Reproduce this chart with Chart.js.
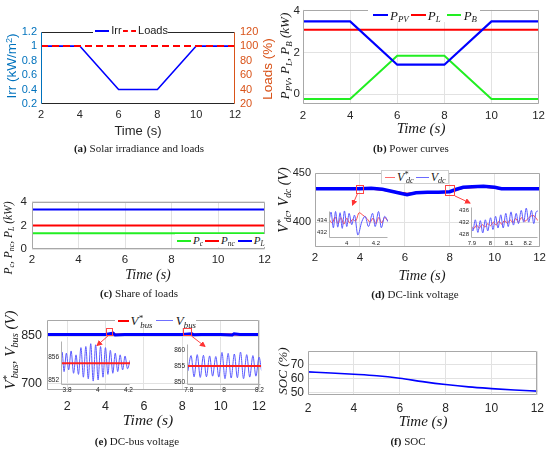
<!DOCTYPE html>
<html>
<head>
<meta charset="utf-8">
<script src="https://cdn.jsdelivr.net/npm/chart.js@4.4.0/dist/chart.umd.min.js"></script>
<style>
html, body { margin: 0; padding: 0; background: #fff; }
#page { position: relative; width: 550px; height: 450px; overflow: hidden; }
canvas { position: absolute; }
.t { position: absolute; white-space: nowrap; line-height: 1; transform: translate(-50%, -50%); color: #1a1a1a; }
.rot { transform: translate(-50%, -50%) rotate(-90deg); }
.m { font-family: 'Liberation Serif', serif; font-style: italic; }
.s { font-family: 'Liberation Sans', Arial, sans-serif; }
.cap { font-family: 'Liberation Serif', serif; }
sub, sup { font-size: 68%; line-height: 0; position: relative; }
sub { vertical-align: -0.3em; }
sup { vertical-align: 0.45em; }
.lg { position: absolute; display: flex; align-items: center; background: #fff; white-space: nowrap; line-height: 1; color: #1a1a1a; box-sizing: border-box; }
.lg i { display: inline-block; height: 0; }
svg { position: absolute; left: 0; top: 0; }
</style>
</head>
<body>
<div id="page">
<canvas id="ca"></canvas>
<canvas id="cb"></canvas>
<canvas id="cc"></canvas>
<canvas id="cd"></canvas>
<canvas id="ce"></canvas>
<canvas id="cf"></canvas>
<canvas id="cdl"></canvas>
<canvas id="cdr"></canvas>
<canvas id="cel"></canvas>
<canvas id="cer"></canvas>
<svg width="550" height="450">
  <defs>
    <marker id="ah" markerWidth="6" markerHeight="6" refX="5" refY="3" orient="auto">
      <path d="M0,0 L6,3 L0,6 z" fill="#f33"/>
    </marker>
  </defs>
  <g fill="none" stroke="#f44" stroke-width="1">
    <rect x="356.5" y="185.5" width="7" height="8"/>
    <line x1="357.5" y1="193.5" x2="352.5" y2="205" marker-end="url(#ah)"/>
    <rect x="445.5" y="185.5" width="9" height="10"/>
    <line x1="455" y1="196" x2="470" y2="203" marker-end="url(#ah)"/>
    <rect x="106.5" y="328.5" width="6" height="7"/>
    <line x1="108.5" y1="335.5" x2="97" y2="345.5" marker-end="url(#ah)"/>
    <rect x="183.5" y="328.5" width="8" height="7"/>
    <line x1="191.5" y1="336" x2="205" y2="346.5" marker-end="url(#ah)"/>
  </g>
</svg>
</div>
<script>
/* --------------- (a) Solar irradiance and loads --------------------- */
const timeA = [2, 4, 6, 8, 10, 12];
const irr = [1, 1, 0.4, 0.4, 1, 1];
const loads = [100, 100, 100, 100, 100, 100];
const ticksTime = [2, 4, 6, 8, 10, 12];
const ticksIrr = [0.2, 0.4, 0.6, 0.8, 1, 1.2];
const ticksLoads = [20, 40, 60, 80, 100, 120];

/* --------------- (b) Power curves --------------------- */
const timeB = [2, 4, 6, 8, 10, 12];
const pPV = [3.5, 3.5, 1.42, 1.42, 3.5, 3.5];
const pL = [3.1, 3.1, 3.1, 3.1, 3.1, 3.1];
const pB = [-0.22, -0.22, 1.85, 1.85, -0.22, -0.22];
const ticksPower = [0, 2, 4];

/* --------------- (c) Share of loads --------------------- */
const timeC = [2, 12];
const pc = [1.33, 1.33];
const pnc = [2.0, 2.0];
const pLoad = [3.35, 3.35];

/* --------------- (d) DC-link voltage --------------------- */
const timeD = [2, 3, 4, 4.5, 5, 5.4, 5.8, 6.1, 6.5, 7, 7.5, 8, 8.3, 8.6, 9, 9.5, 10, 10.3, 11, 12];
const vdc = [434, 434, 434, 434.5, 433.5, 431.5, 429.5, 428, 430, 430.5, 430.5, 431, 433.5, 435.5, 436, 436.5, 435.5, 434, 434, 434];
const vdcRef = [434, 434, 434, 434, 433, 431.5, 430, 429, 430, 430.5, 430.5, 431, 433, 435, 435.5, 436, 435, 434, 434, 434];
const ticksVdc = [400, 450];
// zoom near t = 4 s
const tDcL = [3.878, 3.892, 3.908, 3.923, 3.938, 3.954, 3.969, 3.984, 4.0, 4.016, 4.034, 4.053, 4.076, 4.103, 4.126, 4.149, 4.177, 4.195, 4.218, 4.237, 4.26, 4.283];
const vDcL = [433.8, 435.4, 432.8, 435.5, 432.9, 435.3, 432.7, 435.6, 433.0, 435.2, 433.3, 434.9, 431.6, 433.8, 434.7, 433.0, 435.2, 433.0, 435.5, 432.8, 434.7, 433.8];
const tRefL = [3.878, 3.9, 3.92, 3.94, 3.96, 3.98, 4.0, 4.02, 4.04, 4.06, 4.085, 4.11, 4.14, 4.16, 4.18, 4.2, 4.22, 4.24, 4.26, 4.283];
const vRefL = [434.2, 433.6, 434.6, 433.5, 434.5, 433.4, 434.4, 433.6, 434.2, 433.9, 435.3, 434.9, 434.3, 433.7, 434.4, 433.5, 434.5, 433.6, 434.5, 433.9];
// zoom near t = 8 s
const tDcR = [7.895, 7.905, 7.918, 7.932, 7.945, 7.958, 7.972, 7.985, 8.0, 8.013, 8.027, 8.04, 8.055, 8.068, 8.082, 8.095, 8.11, 8.123, 8.138, 8.15, 8.165, 8.178, 8.192, 8.205, 8.22, 8.232, 8.245, 8.255];
const vDcR = [431.5, 429.0, 432.8, 428.5, 432.5, 428.3, 432.8, 429.0, 433.5, 429.5, 434.0, 430.0, 434.5, 430.0, 435.0, 430.5, 435.5, 431.0, 435.0, 431.5, 436.0, 432.0, 436.8, 432.0, 436.0, 431.5, 435.5, 435.8];
const tRefR = [7.895, 7.91, 7.925, 7.94, 7.955, 7.97, 7.985, 8.0, 8.015, 8.03, 8.045, 8.06, 8.075, 8.09, 8.105, 8.12, 8.135, 8.15, 8.165, 8.185, 8.205, 8.228, 8.255];
const vRefR = [430.5, 429.8, 431.0, 430.0, 431.2, 430.3, 431.5, 430.8, 432.0, 431.0, 432.3, 431.3, 432.6, 431.6, 432.8, 431.8, 433.3, 432.0, 433.5, 432.3, 433.5, 434.3, 432.5];

/* --------------- (e) DC-bus voltage --------------------- */
const timeE = [0.95, 2, 3, 4, 4.4, 4.5, 5, 6, 7, 8, 8.5, 8.6, 9, 10, 10.6, 10.7, 11, 12];
const vbus = [855, 855, 855, 855, 859, 853, 855, 855, 855, 855, 857, 854, 855, 855, 853, 857, 855, 855];
const vbusRef = [855, 855, 855, 855, 855, 855, 855, 855, 855, 855, 855, 855, 855, 855, 855, 855, 855, 855];
const ticksTimeE = [2, 4, 6, 8, 10, 12];
const ticksVbus = [700, 850];
// zoom near t = 4 s
const tBusL = [3.76, 3.767, 3.78, 3.795, 3.81, 3.826, 3.842, 3.858, 3.874, 3.89, 3.906, 3.922, 3.938, 3.954, 3.97, 3.986, 4.002, 4.018, 4.034, 4.05, 4.066, 4.082, 4.098, 4.114, 4.13, 4.146, 4.162, 4.178, 4.194, 4.21];
const vBusL = [855.5, 857.0, 853.5, 856.8, 853.8, 857.2, 853.2, 856.5, 853.0, 857.8, 852.5, 858.0, 852.2, 858.5, 851.8, 858.3, 852.0, 858.0, 852.5, 857.8, 853.0, 857.3, 853.2, 856.8, 853.5, 856.5, 853.8, 856.3, 854.0, 855.5];
// zoom near t = 8 s
const tBusR = [7.795, 7.813, 7.830, 7.848, 7.865, 7.883, 7.900, 7.918, 7.935, 7.953, 7.970, 7.988, 8.005, 8.023, 8.040, 8.058, 8.075, 8.093, 8.110, 8.128, 8.145, 8.163, 8.180, 8.198, 8.212];
const vBusR = [853.4, 858.3, 851.6, 858.6, 851.4, 858.4, 851.6, 858.2, 851.8, 858.0, 851.5, 859.3, 851.0, 859.0, 851.2, 858.8, 851.3, 859.4, 851.0, 858.6, 851.5, 858.3, 851.8, 857.8, 853.5];
const tBusRefL = [3.76, 4.21];
const tBusRefR = [7.79, 8.21];
const vBusRef = [855, 855];

/* --------------- (f) SOC --------------------- */
const timeF = [2, 3, 4, 5, 6, 7, 8, 9, 10, 11, 12];
const soc = [65.0, 64.2, 63.3, 62.2, 60.4, 58.0, 55.9, 54.2, 53.0, 52.0, 51.2];
const ticksSoc = [50, 60, 70];

/* --------------- Helpers --------------------- */
const SANS = "'Liberation Sans', Arial, sans-serif";
const page = document.getElementById('page');
const pts = (xs, ys) => xs.map((x, i) => ({ x, y: ys[i] }));

// frame round the plot area, one colour per side (null = no line)
Chart.register({
    id: 'box',
    afterDatasetsDraw(chart, args, o) {
        const { ctx, chartArea: a } = chart;
        const l = Math.round(a.left) + 0.5, r = Math.round(a.right) - 0.5;
        const t = Math.round(a.top) + 0.5, b = Math.round(a.bottom) - 0.5;
        const side = (c, x1, y1, x2, y2) => {
            if (!c) return;
            ctx.strokeStyle = c;
            ctx.beginPath(); ctx.moveTo(x1, y1); ctx.lineTo(x2, y2); ctx.stroke();
        };
        ctx.save();
        ctx.lineWidth = 1;
        side(o.t, l, t, r, t); side(o.b, l, b, r, b);
        side(o.l, l, t, l, b); side(o.r, r, t, r, b);
        ctx.restore();
    }
});

function axis(o) {
    return {
        type: 'linear', position: o.pos, min: o.min, max: o.max,
        afterBuildTicks: s => { s.ticks = o.ticks.map(v => ({ value: v })); },
        grid: { display: o.grid !== false, color: '#e2e2e2', drawTicks: false },
        border: { display: false },
        ticks: {
            font: { family: SANS, size: o.font }, color: o.color || '#262626',
            padding: o.pad, autoSkip: false, maxRotation: 0, callback: v => String(v)
        }
    };
}

function line(xs, ys, color, width, extra) {
    return Object.assign({ data: pts(xs, ys), borderColor: color, borderWidth: width, pointRadius: 0, fill: false }, extra || {});
}

// area = [left, top, right, bottom] of the plot box on the page, m = margins [l, t, r, b]
function plot(id, area, m, datasets, scales, box) {
    const c = document.getElementById(id);
    const w = area[2] - area[0] + m[0] + m[2], h = area[3] - area[1] + m[1] + m[3];
    Object.assign(c.style, { left: (area[0] - m[0]) + 'px', top: (area[1] - m[1]) + 'px', width: w + 'px', height: h + 'px' });
    c.width = w; c.height = h;
    scales.x.afterFit = s => { s.height = m[3]; };
    scales.y.afterFit = s => { s.width = m[0]; };
    if (scales.y2) scales.y2.afterFit = s => { s.width = m[2]; };
    return new Chart(c, {
        type: 'line',
        data: { datasets },
        options: {
            responsive: false, animation: false, events: [],
            layout: { autoPadding: false, padding: { left: 0, top: m[1], right: scales.y2 ? 0 : m[2], bottom: 0 } },
            scales,
            plugins: { legend: { display: false }, tooltip: { enabled: false }, box }
        }
    });
}

function put(html, x, y, size, cls, color) {
    const d = document.createElement('div');
    d.className = 't ' + cls;
    Object.assign(d.style, { left: x + 'px', top: y + 'px', fontSize: size + 'px' });
    if (color) d.style.color = color;
    d.innerHTML = html;
    page.appendChild(d);
}

// items: [gap before line, line length, colour, thickness, style, gap after line, label]
function legend(x, y, w, h, size, cls, items, border) {
    const d = document.createElement('div');
    d.className = 'lg ' + cls;
    Object.assign(d.style, { left: x + 'px', top: y + 'px', width: w + 'px', height: h + 'px', fontSize: size + 'px' });
    if (border) d.style.border = '1px solid ' + border;
    for (const [g1, len, col, th, st, g2, lab] of items) {
        d.insertAdjacentHTML('beforeend',
            `<i style="margin-left:${g1}px;width:${len}px;border-top:${th}px ${st} ${col};margin-right:${g2}px"></i><span>${lab}</span>`);
    }
    page.appendChild(d);
}

const frame = { t: '#a8a8a8', b: '#a8a8a8', l: '#a8a8a8', r: '#a8a8a8' };
const insetFrame = { l: '#b0b0b0', b: '#b0b0b0' };

/* --------------- Charts --------------------- */
// loads dashes lie on top of the irradiance line
plot('ca', [41, 25, 235, 104], [41, 5, 40, 20], [
    line(timeA, irr, '#0000ff', 1.6, { yAxisID: 'y', order: 1 }),
    line(timeA, loads, '#ff0000', 2, { yAxisID: 'y2', order: 0, borderDash: [7, 4] })
], {
    x: axis({ pos: 'bottom', min: 2, max: 12, ticks: ticksTime, font: 11, pad: 4, grid: false }),
    y: axis({ pos: 'left', min: 0.2, max: 1.2, ticks: ticksIrr, font: 11, pad: 4, grid: false, color: '#0072BD' }),
    y2: axis({ pos: 'right', min: 20, max: 120, ticks: ticksLoads, font: 11, pad: 5, grid: false, color: '#D95319' })
}, { t: '#262626', b: '#262626', l: '#0072BD', r: '#D95319' });

plot('cb', [303, 7, 540, 104], [28, 7, 10, 20], [
    line(timeB, pPV, '#0000ff', 2.2),
    line(timeB, pL, '#ff0000', 2),
    line(timeB, pB, '#22ee22', 2)
], {
    x: axis({ pos: 'bottom', min: 2, max: 12, ticks: ticksTime, font: 11.5, pad: 5 }),
    y: axis({ pos: 'left', min: -0.465, max: 4.05, ticks: ticksPower, font: 11.5, pad: 3 })
}, frame);

plot('cc', [32, 201, 268, 249], [32, 11, 7, 20], [
    line(timeC, pc, '#22ee22', 2),
    line(timeC, pnc, '#ff0000', 2),
    line(timeC, pLoad, '#0000ff', 2)
], {
    x: axis({ pos: 'bottom', min: 2, max: 12, ticks: ticksTime, font: 11.5, pad: 4 }),
    y: axis({ pos: 'left', min: 0, max: 4, ticks: ticksPower, font: 11.5, pad: 5 })
}, frame);

plot('cd', [315, 173, 540, 247], [40, 13, 10, 20], [
    line(timeD, vdc, '#0000ff', 3.5, { order: 0 }),
    line(timeD, vdcRef, '#ff0000', 2, { order: 1 })
], {
    x: axis({ pos: 'bottom', min: 2, max: 12, ticks: ticksTime, font: 11.5, pad: 4 }),
    y: axis({ pos: 'left', min: 375, max: 450, ticks: ticksVdc, font: 11, pad: 4 })
}, frame);

plot('ce', [47, 320, 267, 390], [47, 20, 8, 24], [
    line(timeE, vbus, '#0000ff', 3, { order: 0 }),
    line(timeE, vbusRef, '#ff0000', 2, { order: 1 })
], {
    x: axis({ pos: 'bottom', min: 0.95, max: 12, ticks: ticksTimeE, font: 12.5, pad: 9 }),
    y: axis({ pos: 'left', min: 678, max: 901, ticks: ticksVbus, font: 12.5, pad: 5 })
}, frame);

plot('cf', [308, 350, 541, 395], [33, 10, 9, 20], [
    line(timeF, soc, '#0000ff', 1.6, { cubicInterpolationMode: 'monotone' })
], {
    x: axis({ pos: 'bottom', min: 2, max: 12, ticks: ticksTime, font: 12, pad: 6 }),
    y: axis({ pos: 'left', min: 48.4, max: 79.8, ticks: ticksSoc, font: 12, pad: 4 })
}, frame);

// insets (transparent, so the main grid shows through)
const smooth = { cubicInterpolationMode: 'monotone' };
plot('cdl', [329, 207, 388, 238], [16, 2, 2, 10], [
    line(tDcL, vDcL, '#5a5aff', 1, Object.assign({ order: 0 }, smooth)),
    line(tRefL, vRefL, '#ff4a4a', 1, Object.assign({ order: 1 }, smooth))
], {
    x: axis({ pos: 'bottom', min: 3.878, max: 4.283, ticks: [4, 4.2], font: 6, pad: 2, grid: false }),
    y: axis({ pos: 'left', min: 431.1, max: 435.65, ticks: [432, 434], font: 6, pad: 2, grid: false })
}, insetFrame);

plot('cdr', [471, 203, 538, 238], [16, 2, 2, 10], [
    line(tDcR, vDcR, '#5a5aff', 1, Object.assign({ order: 0 }, smooth)),
    line(tRefR, vRefR, '#ff4a4a', 1, Object.assign({ order: 1 }, smooth))
], {
    x: axis({ pos: 'bottom', min: 7.895, max: 8.255, ticks: [7.9, 8, 8.1, 8.2], font: 6, pad: 2, grid: false }),
    y: axis({ pos: 'left', min: 426.6, max: 437.3, ticks: [428, 432, 436], font: 6, pad: 2, grid: false })
}, insetFrame);

plot('cel', [61, 337, 132, 385], [16, 2, 2, 9], [
    line(tBusRefL, vBusRef, '#ff2020', 2, { order: 0 }),
    line(tBusL, vBusL, '#5a5aff', 1, Object.assign({ order: 1 }, smooth))
], {
    x: axis({ pos: 'bottom', min: 3.76, max: 4.21, ticks: [3.8, 4, 4.2], font: 6.5, pad: 1, grid: false }),
    y: axis({ pos: 'left', min: 851.1, max: 859, ticks: [852, 856], font: 6.5, pad: 2, grid: false })
}, insetFrame);

plot('cer', [187, 340, 263, 385], [16, 2, 2, 9], [
    line(tBusRefR, vBusRef, '#ff2020', 2, { order: 0 }),
    line(tBusR, vBusR, '#5a5aff', 1, Object.assign({ order: 1 }, smooth))
], {
    x: axis({ pos: 'bottom', min: 7.79, max: 8.21, ticks: [7.8, 8, 8.2], font: 6.5, pad: 1, grid: false }),
    y: axis({ pos: 'left', min: 849, max: 862, ticks: [850, 855, 860], font: 6.5, pad: 2, grid: false })
}, insetFrame);

/* --------------- Titles, legends and captions --------------------- */
put('Irr (kW/m<sup>2</sup>)', 12, 66, 13.5, 's rot', '#0072BD');
put('Loads (%)', 268, 69, 13.5, 's rot', '#D95319');
put('Time (s)', 138, 130, 13, 's', '#262626');
legend(93, 24, 75, 13, 11, 's', [
    [2, 15, '#0000ff', 2, 'solid', 2, 'Irr'],
    [1, 14, '#ff0000', 2, 'dashed', 2, 'Loads']
]);

put('P<sub>PV</sub>, P<sub>L</sub>, P<sub>B</sub> (kW)', 284, 56, 13, 'm rot');
put('Time (s)', 421, 128, 15, 'm');
legend(368, 8, 112, 14, 13, 'm', [
    [5, 15, '#0000ff', 2, 'solid', 2, 'P<sub>PV</sub>'],
    [2, 15, '#ff0000', 2, 'solid', 2, 'P<sub>L</sub>'],
    [6, 14, '#22ee22', 2, 'solid', 3, 'P<sub>B</sub>']
]);

put('P<sub>c</sub>, P<sub>nc</sub>, P<sub>L</sub> (kW)', 9, 238, 11.5, 'm rot');
put('Time (s)', 148, 275, 14, 'm');
legend(175, 234, 93, 13, 11, 'm', [
    [2, 14, '#22ee22', 2, 'solid', 2, 'P<sub>c</sub>'],
    [2, 14, '#ff0000', 2, 'solid', 2, 'P<sub>nc</sub>'],
    [3, 14, '#0000ff', 2, 'solid', 2, 'P<sub>L</sub>']
]);

put('V<sup>*</sup><sub style="margin-left:-0.3em">dc</sub>, V<sub>dc</sub> (V)', 284, 200, 14, 'm rot');
put('Time (s)', 422, 275, 14.5, 'm');
legend(381, 170, 68, 14, 12, 'm', [
    [3, 10, '#ff6a6a', 1, 'solid', 2, 'V<sup>*</sup><sub style="margin-left:-0.3em">dc</sub>'],
    [2, 13, '#6a6aff', 1, 'solid', 2, 'V<sub>dc</sub>']
], '#cfcfcf');

put('V<sup>*</sup><sub style="margin-left:-0.3em">bus</sub>, V<sub>bus</sub> (V)', 10, 350, 15, 'm rot');
put('Time (s)', 148, 420, 15.5, 'm');
legend(115, 313, 81, 15, 13, 'm', [
    [3, 11, '#ff0000', 2, 'solid', 2, 'V<sup>*</sup><sub style="margin-left:-0.3em">bus</sub>'],
    [3, 18, '#6f6fff', 1, 'solid', 3, 'V<sub>bus</sub>']
]);

put('SOC (%)', 282, 371, 13, 'm rot');
put('Time (s)', 423, 421, 15, 'm');

put('<b>(a)</b> Solar irradiance and loads', 139, 148, 11, 'cap');
put('<b>(b)</b> Power curves', 411, 148, 11, 'cap');
put('<b>(c)</b> Share of loads', 139, 293, 11, 'cap');
put('<b>(d)</b> DC-link voltage', 415, 294, 11, 'cap');
put('<b>(e)</b> DC-bus voltage', 137, 441, 11, 'cap');
put('<b>(f)</b> SOC', 408, 441, 11, 'cap');
</script>
</body>
</html>
